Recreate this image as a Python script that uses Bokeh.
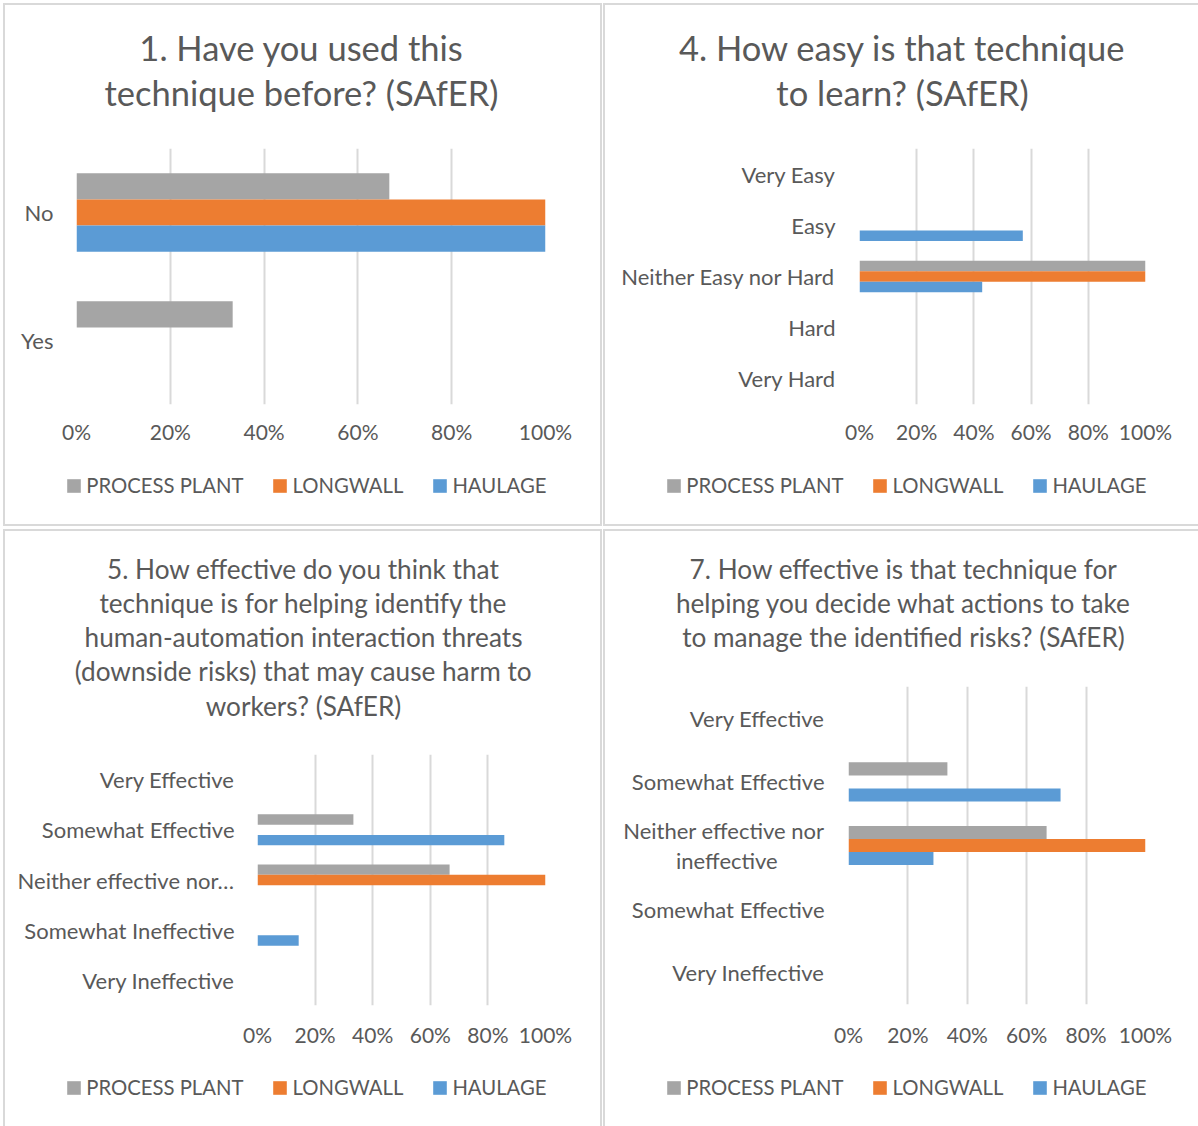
from bokeh.plotting import figure
from bokeh.models import (Range1d, FixedTicker, NumeralTickFormatter, Label,
                          Legend, LegendItem, ColumnDataSource)
from bokeh.layouts import row, column
from bokeh.embed import file_html
from bokeh.resources import INLINE

# ---------------- data ----------------
series_names = ["PROCESS PLANT", "LONGWALL", "HAULAGE"]
series_colors = ["#A5A5A5", "#ED7D31", "#5B9BD5"]
x_ticks = [0, 0.2, 0.4, 0.6, 0.8, 1.0]

q1_title = ["1. Have you used this", "technique before? (SAfER)"]
q1_cats = ["No", "Yes"]
q1_process = [0.667, 0.333]
q1_longwall = [1.0, 0.0]
q1_haulage = [1.0, 0.0]

q4_title = ["4. How easy is that technique", "to learn? (SAfER)"]
q4_cats = ["Very Easy", "Easy", "Neither Easy nor Hard", "Hard", "Very Hard"]
q4_process = [0.0, 0.0, 1.0, 0.0, 0.0]
q4_longwall = [0.0, 0.0, 1.0, 0.0, 0.0]
q4_haulage = [0.0, 0.571, 0.429, 0.0, 0.0]

q5_title = ["5. How effective do you think that",
            "technique is for helping identify the",
            "human-automation interaction threats",
            "(downside risks) that may cause harm to",
            "workers? (SAfER)"]
q5_cats = ["Very Effective", "Somewhat Effective", "Neither effective nor\u2026",
           "Somewhat Ineffective", "Very Ineffective"]
q5_process = [0.0, 0.333, 0.667, 0.0, 0.0]
q5_longwall = [0.0, 0.0, 1.0, 0.0, 0.0]
q5_haulage = [0.0, 0.857, 0.0, 0.143, 0.0]

q7_title = ["7. How effective is that technique for",
            "helping you decide what actions to take",
            "to manage the identified risks? (SAfER)"]
q7_cats = ["Very Effective", "Somewhat Effective",
           "Neither effective nor\nineffective\u2002\u2002\u2002\u2002\u2009",
           "Somewhat Effective", "Very Ineffective"]
q7_process = [0.0, 0.333, 0.667, 0.0, 0.0]
q7_longwall = [0.0, 0.0, 1.0, 0.0, 0.0]
q7_haulage = [0.0, 0.714, 0.286, 0.0, 0.0]

FONT = "Lato"
TXT = "#595959"
GRID = "#D9D9D9"
B = "#D9D9D9"


def blank(width, height):
    f = figure(width=width, height=height, output_backend="svg", toolbar_location=None,
               x_range=Range1d(0, width), y_range=Range1d(height, 0),
               min_border_left=0, min_border_right=0, min_border_top=0,
               min_border_bottom=0, x_axis_type=None, y_axis_type=None,
               border_fill_color=None, background_fill_color=None,
               outline_line_color=None, frame_align=False)
    f.grid.visible = False
    return f


def panel(W, H, title_h, main_h, left, right_b, bottom_b, cats, values, title_lines,
          title_size, title_cx, title_base, title_step, legend_x, legend_y,
          x_standoff, ylab_standoff, shadow):
    # ---- title strip ----
    t = blank(W, title_h)
    for i, line in enumerate(title_lines):
        t.add_layout(Label(x=title_cx, y=title_base + i * title_step, text=line,
                           text_align="center", text_baseline="alphabetic",
                           text_font=FONT, text_font_size=title_size, text_color=TXT))

    # ---- bars ----
    n = len(cats)
    pos = [n - i for i in range(n)]
    p = figure(width=W, height=main_h, output_backend="svg", toolbar_location=None,
               x_range=Range1d(0, 1), y_range=Range1d(0.5, n + 0.5),
               min_border_left=left, min_border_right=right_b,
               min_border_top=0, min_border_bottom=bottom_b,
               border_fill_color=None, background_fill_color="white",
               outline_line_color=None, frame_align=False)
    bar_h = 0.205
    offsets = [bar_h, 0.0, -bar_h]
    for name, color, vals, off in zip(series_names, series_colors, values, offsets):
        src = ColumnDataSource(dict(y=[v + off for v in pos], right=vals))
        p.hbar(y="y", left=0, right="right", height=bar_h, source=src,
               fill_color=color, line_color=None)

    xa = p.xaxis[0]
    xa.ticker = FixedTicker(ticks=x_ticks)
    xa.formatter = NumeralTickFormatter(format="0%")
    ya = p.yaxis[0]
    ya.ticker = FixedTicker(ticks=pos)
    ya.major_label_overrides = {v: c for v, c in zip(pos, cats)}
    for ax in (xa, ya):
        ax.axis_line_color = None
        ax.major_tick_line_color = None
        ax.minor_tick_line_color = None
        ax.major_tick_out = 0
        ax.major_tick_in = 0
        ax.major_label_text_font = FONT
        ax.major_label_text_color = TXT
    xa.major_label_text_font_size = "21px"
    xa.major_label_standoff = x_standoff
    ya.major_label_text_font_size = "22px"
    ya.major_label_text_line_height = 1.1
    ya.major_label_standoff = ylab_standoff
    p.ygrid.grid_line_color = None
    p.xgrid.grid_line_color = GRID
    p.xgrid.grid_line_width = 2
    p.xgrid.ticker = FixedTicker(ticks=x_ticks)

    # ---- legend strip (hidden copies of the series supply the legend keys) ----
    lg_h = H - title_h - main_h
    lg = blank(W, lg_h)
    items = []
    for name, color, vals in zip(series_names, series_colors, values):
        r = lg.hbar(y=pos, left=0, right=vals, height=bar_h, fill_color=color,
                    line_color=None, visible=False)
        items.append(LegendItem(label=name, renderers=[r]))
    leg = Legend(items=items, orientation="horizontal", location=(legend_x, legend_y),
                 glyph_width=17, glyph_height=17, label_standoff=4, spacing=28,
                 padding=0, margin=0, border_line_color=None, background_fill_alpha=0,
                 label_text_font=FONT, label_text_font_size="20.3px",
                 label_text_color=TXT, label_height=25, click_policy="none")
    lg.add_layout(leg)

    return column(t, p, lg, spacing=0, styles={"box-shadow": shadow})


sh1 = (f"inset 3px 0 0 0 white, inset 0 3px 0 0 white, inset 5px 0 0 0 {B}, "
       f"inset 0 5px 0 0 {B}, inset -2px 0 0 0 {B}, inset 0 -2px 0 0 {B}")
sh2 = (f"inset 1px 0 0 0 white, inset 0 3px 0 0 white, inset 3px 0 0 0 {B}, "
       f"inset 0 5px 0 0 {B}, inset 0 -2px 0 0 {B}")
sh3 = (f"inset 3px 0 0 0 white, inset 0 3px 0 0 white, inset 5px 0 0 0 {B}, "
       f"inset 0 5px 0 0 {B}, inset -2px 0 0 0 {B}")
sh4 = (f"inset 1px 0 0 0 white, inset 0 3px 0 0 white, inset 3px 0 0 0 {B}, "
       f"inset 0 5px 0 0 {B}")

c1 = panel(602, 526, 148, 312, 76, 57, 56, q1_cats, [q1_process, q1_longwall, q1_haulage],
           q1_title, "34.5px", 301, 47, 45, 65.25, 28.5, 14, 23, sh1)
c2 = panel(596, 526, 148, 312, 257, 53, 56, q4_cats, [q4_process, q4_longwall, q4_haulage],
           q4_title, "34.5px", 300, 47, 45, 63.25, 28.5, 14, 24, sh2)
c3 = panel(602, 600, 228, 307, 257, 57, 56, q5_cats, [q5_process, q5_longwall, q5_haulage],
           q5_title, "26.2px", 303, 42, 34.3, 65.25, 26.5, 16, 23, sh3)
c4 = panel(596, 600, 160, 375, 246, 53, 57, q7_cats, [q7_process, q7_longwall, q7_haulage],
           q7_title, "26.2px", 301, 42, 34.3, 63.25, 26.5, 17, 24, sh4)

layout = column(row(c1, c2, spacing=0), row(c3, c4, spacing=0), spacing=0)

open("out.html", "w").write(file_html(layout, INLINE))
